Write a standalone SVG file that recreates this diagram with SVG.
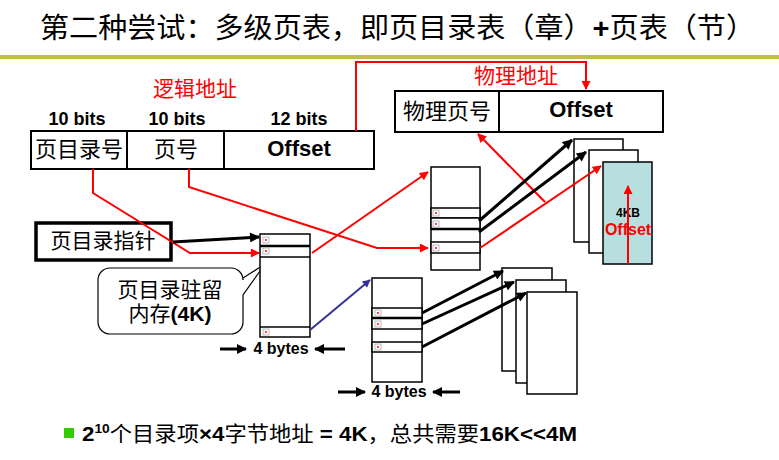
<svg xmlns="http://www.w3.org/2000/svg" width="779" height="460" viewBox="0 0 779 460">
<style>
.t{font-family:'Liberation Sans','Noto Sans CJK SC',sans-serif;fill:#000}
.b{font-weight:bold}
.r{fill:#f00}
.box{fill:#fff;stroke:#000;stroke-width:2}
.tb{fill:#fff;stroke:#000;stroke-width:1.5}
.blk{stroke:#000;stroke-width:3;fill:none}
.red{stroke:#f00;stroke-width:2;fill:none}
.blu{stroke:#333399;stroke-width:2;fill:none}
</style>
<defs>
<marker id="ak" viewBox="0 0 10 10" refX="9" refY="5" markerWidth="12" markerHeight="10" markerUnits="userSpaceOnUse" orient="auto"><path d="M0,0 L10,5 L0,10 z" fill="#000"/></marker>
<marker id="ar" viewBox="0 0 10 10" refX="9" refY="5" markerWidth="11" markerHeight="9" markerUnits="userSpaceOnUse" orient="auto"><path d="M0,0 L10,5 L0,10 z" fill="#f00"/></marker>
<marker id="au" viewBox="0 0 10 10" refX="9" refY="5" markerWidth="10" markerHeight="8" markerUnits="userSpaceOnUse" orient="auto"><path d="M0,0 L10,5 L0,10 z" fill="#333399"/></marker>
<g id="ic"><rect x="0" y="0" width="6" height="6" fill="#fff" stroke="#aaa" stroke-width="0.8"/><rect x="2" y="2" width="2" height="2" fill="#f44"/></g>
</defs>
<rect width="779" height="460" fill="#fff"/>

<g id="title">
<text class="t" x="40" y="38" font-size="28" textLength="715" lengthAdjust="spacingAndGlyphs">第二种尝试：多级页表，即页目录表（章）<tspan class="b">+</tspan>页表（节）</text>
<rect x="0" y="55" width="779" height="4" fill="#c0c040"/>
</g>

<g id="logical-address">
<text class="t r" x="195" y="96" font-size="21" text-anchor="middle">逻辑地址</text>
<text class="t b" x="77" y="125" font-size="18" text-anchor="middle">10 bits</text>
<text class="t b" x="177" y="125" font-size="18" text-anchor="middle">10 bits</text>
<text class="t b" x="299" y="125" font-size="18" text-anchor="middle">12 bits</text>
<rect class="box" x="31" y="131" width="343" height="38"/>
<line x1="127" y1="131" x2="127" y2="169" stroke="#000" stroke-width="2"/>
<line x1="224" y1="131" x2="224" y2="169" stroke="#000" stroke-width="2"/>
<text class="t" x="79" y="157" font-size="22" text-anchor="middle">页目录号</text>
<text class="t" x="176" y="157" font-size="22" text-anchor="middle">页号</text>
<text class="t b" x="299" y="156" font-size="22" text-anchor="middle">Offset</text>
</g>

<g id="physical-address">
<text class="t r" x="516" y="83" font-size="21" text-anchor="middle">物理地址</text>
<rect class="box" x="395" y="91" width="268" height="41"/>
<line x1="499" y1="91" x2="499" y2="132" stroke="#000" stroke-width="2"/>
<text class="t" x="447" y="119" font-size="22" text-anchor="middle">物理页号</text>
<text class="t b" x="581" y="117" font-size="22" text-anchor="middle">Offset</text>
</g>

<g id="dir-pointer">
<rect x="36" y="223" width="135" height="37" fill="#fff" stroke="#000" stroke-width="3.5"/>
<text class="t" x="103" y="248" font-size="21" text-anchor="middle">页目录指针</text>
</g>

<g id="callout">
<path d="M110,268 H231 A12,12 0 0 1 243,280 V278 L265,264 L243,295 V322 A12,12 0 0 1 231,334 H110 A12,12 0 0 1 98,322 V280 A12,12 0 0 1 110,268 Z" fill="#fff" stroke="#000" stroke-width="1.2"/>
<text class="t" x="170" y="297" font-size="21" text-anchor="middle">页目录驻留</text>
<text class="t" x="170" y="321" font-size="21" text-anchor="middle">内存<tspan class="b">(4K)</tspan></text>
</g>

<g id="page-directory">
<rect class="tb" x="260" y="234" width="50" height="103"/>
<line x1="260" y1="246" x2="310" y2="246" stroke="#000" stroke-width="2.5"/>
<line x1="260" y1="257" x2="310" y2="257" stroke="#000" stroke-width="1.5"/>
<line x1="260" y1="327" x2="310" y2="327" stroke="#000" stroke-width="1.5"/>
<use href="#ic" x="263" y="237"/>
<use href="#ic" x="263" y="248"/>
<use href="#ic" x="263" y="329"/>
<text class="t b" x="281" y="354" font-size="16" text-anchor="middle">4 bytes</text>
</g>

<g id="page-table-1">
<rect class="tb" x="431" y="167" width="49" height="103"/>
<rect class="tb" x="431" y="208" width="49" height="10"/>
<rect class="tb" x="431" y="218" width="49" height="11"/>
<line x1="431" y1="229" x2="480" y2="229" stroke="#000" stroke-width="2.5"/>
<rect class="tb" x="431" y="242" width="49" height="11"/>
<use href="#ic" x="433" y="210"/>
<use href="#ic" x="433" y="221"/>
<use href="#ic" x="433" y="245"/>
</g>

<g id="page-table-2">
<rect class="tb" x="372" y="278" width="50" height="104"/>
<rect class="tb" x="372" y="308" width="50" height="10"/>
<rect class="tb" x="372" y="318" width="50" height="11"/>
<line x1="372" y1="318" x2="422" y2="318" stroke="#000" stroke-width="2.5"/>
<rect class="tb" x="372" y="342" width="50" height="10"/>
<use href="#ic" x="375" y="310"/>
<use href="#ic" x="375" y="321"/>
<use href="#ic" x="375" y="344"/>
<text class="t b" x="399" y="397" font-size="16" text-anchor="middle">4 bytes</text>
</g>

<g id="pages-upper">
<rect class="tb" x="574" y="139" width="49" height="103"/>
<rect class="tb" x="589" y="150" width="49" height="103"/>
<rect x="603" y="162" width="49" height="102" fill="#b8dfe0" stroke="#000" stroke-width="1.5"/>
<text class="t b" x="628" y="217" font-size="12" text-anchor="middle">4KB</text>
<text class="t b r" x="628" y="235" font-size="16" text-anchor="middle">Offset</text>
</g>

<g id="pages-lower">
<rect class="tb" x="502" y="268" width="50" height="103"/>
<rect class="tb" x="516" y="280" width="50" height="103"/>
<rect class="tb" x="527" y="292" width="50" height="102"/>
</g>

<g id="connectors">
<polyline class="red" points="356,131 356,62 586,62 586,89" marker-end="url(#ar)"/>
<polyline class="red" points="93,169 93,193 190,253 259,253" marker-end="url(#ar)"/>
<polyline class="red" points="189,169 189,187 377,248 428,248" marker-end="url(#ar)"/>
<line class="red" x1="312" y1="253" x2="428" y2="172" marker-end="url(#ar)"/>
<line class="red" x1="480" y1="248" x2="601" y2="166" marker-end="url(#ar)"/>
<line class="red" x1="545" y1="202" x2="478" y2="134" marker-end="url(#ar)"/>
<line class="red" x1="628" y1="264" x2="628" y2="186" marker-end="url(#ar)"/>
<line class="blk" x1="173" y1="242" x2="259" y2="237" marker-end="url(#ak)"/>
<line class="blk" x1="479" y1="221" x2="572" y2="140" marker-end="url(#ak)"/>
<line class="blk" x1="479" y1="232" x2="586" y2="152" marker-end="url(#ak)"/>
<line class="blk" x1="422" y1="313" x2="503" y2="271" marker-end="url(#ak)"/>
<line class="blk" x1="422" y1="324" x2="514" y2="282" marker-end="url(#ak)"/>
<line class="blk" x1="422" y1="347" x2="526" y2="293" marker-end="url(#ak)"/>
<line class="blu" x1="310" y1="330" x2="370" y2="280" marker-end="url(#au)"/>
<line class="blk" x1="220" y1="349" x2="246" y2="349" marker-end="url(#ak)"/>
<line class="blk" x1="345" y1="349" x2="315" y2="349" marker-end="url(#ak)"/>
<line class="blk" x1="338" y1="392" x2="365" y2="392" marker-end="url(#ak)"/>
<line class="blk" x1="460" y1="392" x2="433" y2="392" marker-end="url(#ak)"/>
</g>

<g id="summary">
<rect x="64" y="428" width="10" height="10" fill="#33cc00"/>
<text class="t" x="82" y="441" font-size="21" textLength="495" lengthAdjust="spacingAndGlyphs"><tspan class="b">2</tspan><tspan class="b" font-size="13" dy="-8">10</tspan><tspan dy="8">个目录项</tspan><tspan class="b">×4</tspan>字节地址<tspan class="b"> = 4K</tspan>，总共需要<tspan class="b">16K&lt;&lt;4M</tspan></text>
</g>
</svg>
